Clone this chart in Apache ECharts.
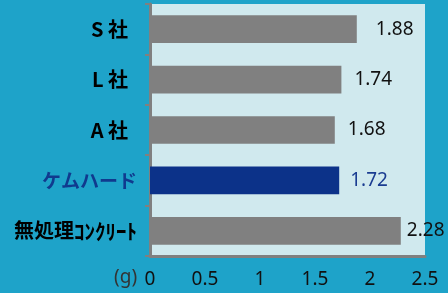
<!DOCTYPE html>
<html>
<head>
<meta charset="utf-8">
<script src="https://cdn.jsdelivr.net/npm/echarts@6/dist/echarts.min.js"></script>
<style>
html, body { margin: 0; padding: 0; background: #1ea3c9; }
#chart { width: 448px; height: 293px; }
</style>
</head>
<body>
<div id="chart"></div>
<script>
var categories = ['S 社', 'L 社', 'A 社', 'ケムハード', '無処理ｺﾝｸﾘｰﾄ'];
var values = [1.88, 1.74, 1.68, 1.72, 2.28];
var xTicks = [0, 0.5, 1, 1.5, 2, 2.5];

var highlight = 'ケムハード';
var labelGap = [19, 13, 13, 11, 6];

var dom = document.getElementById('chart');
var myChart = echarts.init(dom);

var jpFont = '"Noto Sans CJK JP", sans-serif';
var numFont = '"Noto Sans", sans-serif';

var barData = [];
for (var i = 0; i < values.length; i++) {
    var hot = categories[i] === highlight;
    barData.push({
        value: values[i],
        itemStyle: { color: hot ? '#0c3289' : '#808080' },
        label: { distance: labelGap[i], color: hot ? '#1a3c91' : '#111' }
    });
}

var option = {
    backgroundColor: '#1ea3c9',
    grid: {
        left: 150, right: 23, top: 4, bottom: 37,
        show: true, backgroundColor: '#d0e9ee', borderWidth: 0
    },
    xAxis: {
        type: 'value',
        min: xTicks[0],
        max: xTicks[xTicks.length - 1],
        interval: 0.5,
        axisLine: { show: true, lineStyle: { color: '#808080', width: 3 } },
        axisTick: { show: false },
        splitLine: { show: false },
        axisLabel: { color: '#111', fontSize: 19, fontFamily: numFont, margin: 14 }
    },
    yAxis: {
        type: 'category',
        inverse: true,
        data: categories,
        axisLine: { show: true, lineStyle: { color: '#808080', width: 3 } },
        axisTick: { show: true, length: 5, lineStyle: { color: '#808080', width: 2 } },
        axisLabel: {
            margin: 13,
            formatter: function (v) {
                if (v === highlight) return '{hl|' + v + '}';
                if (v.indexOf('社') >= 0) return '{co|' + v + '}';
                // kanji part + half-width katakana part
                return '{nm|' + v.slice(0, 3) + '}{kt|' + v.slice(3) + '}';
            },
            rich: {
                co: { fontSize: 20, fontWeight: 'bold', color: '#000', fontFamily: jpFont, padding: [0, 9, 0, 0] },
                hl: { fontSize: 19, fontWeight: 'bold', color: '#103a8e', fontFamily: jpFont },
                nm: { fontSize: 20, fontWeight: 'bold', color: '#000', fontFamily: jpFont },
                kt: { fontSize: 21, fontWeight: 'bold', color: '#000', fontFamily: jpFont }
            }
        }
    },
    graphic: [{
        type: 'text',
        left: 114, top: 268,
        style: { text: '(g)', fill: '#333', font: '19px ' + numFont }
    }],
    series: [{
        type: 'bar',
        data: barData,
        barCategoryGap: '45%',
        label: {
            show: true,
            position: 'right',
            fontSize: 19,
            fontFamily: numFont,
            formatter: function (p) { return p.value.toFixed(2); }
        }
    }]
};

myChart.setOption(option);
</script>
</body>
</html>
